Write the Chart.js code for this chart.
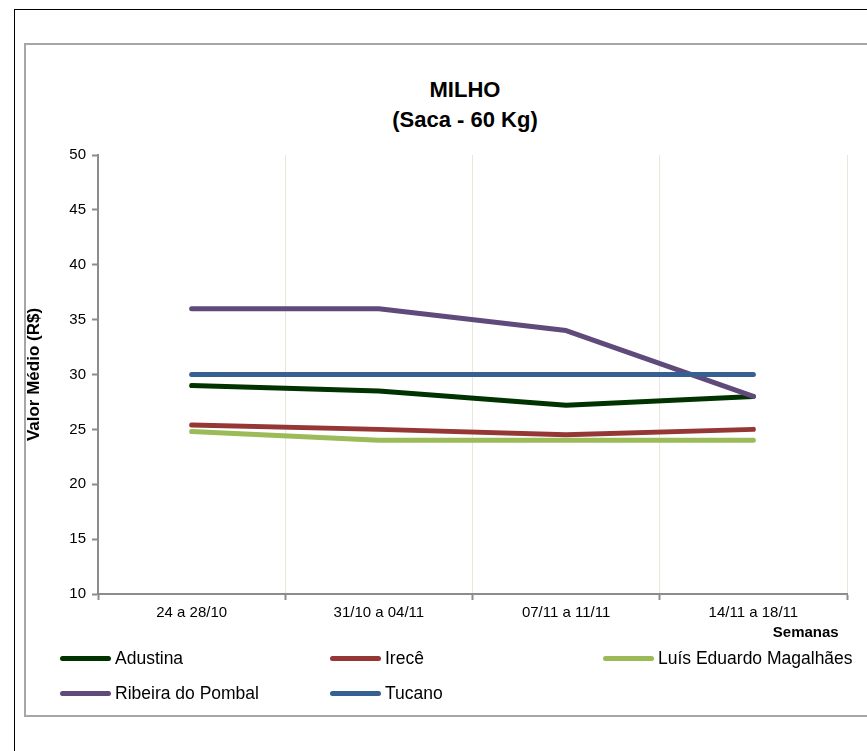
<!DOCTYPE html>
<html>
<head>
<meta charset="utf-8">
<title>Milho - Saca 60 Kg</title>
<script src="https://cdn.jsdelivr.net/npm/chart.js"></script>
<style>
    body { margin: 0; background: #fff; font-family: "Liberation Sans", Arial, sans-serif; }
    #page { position: relative; width: 867px; height: 751px; overflow: hidden; }
    #outer { position: absolute; left: 14px; top: 9px; width: 900px; height: 800px; border-left: 1px solid #000; border-top: 1px solid #000; }
    #frame { position: absolute; left: 24px; top: 43px; width: 900px; height: 670px; border: 2px solid #a6a6a6; }
    #title { position: absolute; left: 265px; width: 400px; top: 75px; text-align: center; font-weight: bold; font-size: 22px; line-height: 30px; }
    #chartBox { position: absolute; left: 24px; top: 44px; width: 843px; height: 672px; }
    .legend-item { position: absolute; font-size: 17.5px; line-height: 20px; white-space: nowrap; color: #000; }
    .legend-item .swatch { display: inline-block; width: 51px; height: 5px; border-radius: 3px; vertical-align: middle; margin-right: 4px; position: relative; top: -1px; }
</style>
</head>
<body>
<div id="page">
    <div id="outer"></div>
    <div id="frame"></div>
    <div id="title">MILHO<br>(Saca - 60 Kg)</div>
    <div id="chartBox"><canvas id="chart"></canvas></div>
    <div id="legend"></div>
</div>

<script>
    // data
    const weeks = ['24 a 28/10', '31/10 a 04/11', '07/11 a 11/11', '14/11 a 18/11'];
    const seriesNames = ['Adustina', 'Irecê', 'Luís Eduardo Magalhães', 'Ribeira do Pombal', 'Tucano'];
    const adustina = [29, 28.5, 27.2, 28];
    const irece = [25.4, 25, 24.5, 25];
    const luisEduardo = [24.8, 24, 24, 24];
    const ribeira = [36, 36, 34, 28];
    const tucano = [30, 30, 30, 30];
    const yTicks = [10, 15, 20, 25, 30, 35, 40, 45, 50];

    const seriesValues = [adustina, irece, luisEduardo, ribeira, tucano];
    const seriesColors = ['#003300', '#953735', '#9bbb59', '#604a7b', '#376092'];

    // legend (3 columns)
    const legendCols = [60, 330, 603];
    const legendRows = [648, 683];
    let legendHtml = '';
    seriesNames.forEach((name, i) => {
        const left = legendCols[i % 3];
        const top = legendRows[Math.floor(i / 3)];
        legendHtml += `<div class="legend-item" style="left:${left}px;top:${top}px">` +
            `<span class="swatch" style="background:${seriesColors[i]}"></span>${name}</div>`;
    });
    document.getElementById('legend').innerHTML = legendHtml;

    const datasets = seriesNames.map((name, i) => ({
        label: name,
        data: seriesValues[i],
        borderColor: seriesColors[i],
        backgroundColor: seriesColors[i],
        borderWidth: 5,
        borderCapStyle: 'round',
        borderJoinStyle: 'round',
        pointRadius: 0,
        tension: 0,
        fill: false,
        order: seriesNames.length - i
    }));

    const ctx = document.getElementById('chart').getContext('2d');
    new Chart(ctx, {
        type: 'line',
        data: { labels: weeks, datasets: datasets },
        options: {
            responsive: true,
            maintainAspectRatio: false,
            animation: false,
            layout: { padding: { top: 111, right: 20, left: 0, bottom: 74 } },
            plugins: {
                legend: { display: false },
                title: { display: false },
                tooltip: { enabled: false }
            },
            scales: {
                x: {
                    offset: true,
                    grid: {
                        offset: true,
                        color: '#ebe7da',
                        lineWidth: 1,
                        tickLength: 6,
                        tickColor: '#8c8c8c',
                        tickWidth: 2
                    },
                    border: { color: '#8c8c8c', width: 2 },
                    ticks: { color: '#000', padding: 4, maxRotation: 0, font: { family: '"Liberation Sans", Arial', size: 15 } },
                    title: {
                        display: true,
                        text: 'Semanas  ',
                        align: 'end',
                        color: '#000',
                        padding: 0,
                        font: { family: '"Liberation Sans", Arial', size: 15, weight: 'bold' }
                    },
                    afterFit: (scale) => { scale.height = 48; }
                },
                y: {
                    min: 10,
                    max: 50,
                    afterBuildTicks: (scale) => { scale.ticks = yTicks.map(v => ({ value: v })); },
                    grid: {
                        drawOnChartArea: false,
                        tickLength: 6,
                        tickColor: '#8c8c8c',
                        tickWidth: 2
                    },
                    border: { color: '#8c8c8c', width: 2 },
                    ticks: { color: '#000', padding: 6, font: { family: '"Liberation Sans", Arial', size: 15 } },
                    title: {
                        display: true,
                        text: 'Valor Médio (R$)',
                        color: '#000',
                        padding: 0,
                        font: { family: '"Liberation Sans", Arial', size: 17, weight: 'bold' }
                    },
                    afterFit: (scale) => { scale.width = 74; }
                }
            }
        }
    });
</script>
</body>
</html>
